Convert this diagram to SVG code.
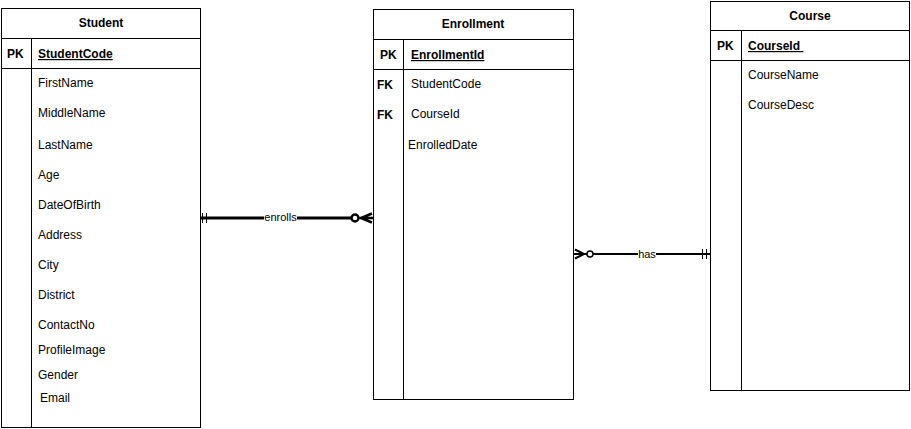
<svg xmlns="http://www.w3.org/2000/svg" width="911" height="429" viewBox="0 0 911 429">
<style>
.box{fill:#fff;stroke:#000;stroke-width:1}
.ln{stroke:#000;stroke-width:1;fill:none}
text{font-family:"Liberation Sans",Arial,sans-serif;font-size:12px;fill:#000}
.t{font-weight:bold;text-anchor:middle}
.k{font-weight:bold}
.pk{font-weight:bold;text-decoration:underline}
.lbl{font-size:11px;text-anchor:middle}
.c{stroke:#000;fill:none}
</style>
<rect width="911" height="429" fill="#fff"/>
<g id="student">
<rect class="box" x="1.5" y="8.5" width="199" height="419"/>
<line class="ln" x1="1.5" y1="38.5" x2="200.5" y2="38.5"/>
<line class="ln" x1="1.5" y1="68.5" x2="200.5" y2="68.5"/>
<line class="ln" x1="31.5" y1="38.5" x2="31.5" y2="427.5"/>
<text class="t" x="101" y="27">Student</text>
<text class="k" x="7" y="58">PK</text>
<text class="pk" x="38" y="58">StudentCode</text>
<text x="38" y="87">FirstName</text>
<text x="38" y="117">MiddleName</text>
<text x="38" y="149">LastName</text>
<text x="38" y="179">Age</text>
<text x="38" y="209">DateOfBirth</text>
<text x="38" y="239">Address</text>
<text x="38" y="269">City</text>
<text x="38" y="299">District</text>
<text x="38" y="329">ContactNo</text>
<text x="38" y="354">ProfileImage</text>
<text x="38" y="379">Gender</text>
<text x="40" y="402">Email</text>
</g>
<g id="enrollment">
<rect class="box" x="373.5" y="9.5" width="200" height="390"/>
<line class="ln" x1="373.5" y1="39.5" x2="573.5" y2="39.5"/>
<line class="ln" x1="373.5" y1="69.5" x2="573.5" y2="69.5"/>
<line class="ln" x1="403.5" y1="39.5" x2="403.5" y2="399.5"/>
<text class="t" x="473" y="28">Enrollment</text>
<text class="k" x="380" y="59">PK</text>
<text class="pk" x="411" y="59">EnrollmentId</text>
<text class="k" x="377" y="89">FK</text>
<text x="411" y="88">StudentCode</text>
<text class="k" x="377" y="119">FK</text>
<text x="411" y="118">CourseId</text>
<text x="408" y="149">EnrolledDate</text>
</g>
<g id="course">
<rect class="box" x="710.5" y="1.5" width="199" height="389"/>
<line class="ln" x1="710.5" y1="30.5" x2="909.5" y2="30.5"/>
<line class="ln" x1="710.5" y1="60.5" x2="909.5" y2="60.5"/>
<line class="ln" x1="741.5" y1="30.5" x2="741.5" y2="390.5"/>
<text class="t" x="810" y="20">Course</text>
<text class="k" x="717" y="50">PK</text>
<text class="pk" x="748" y="50">CourseId&#160;</text>
<text x="748" y="79">CourseName</text>
<text x="748" y="109">CourseDesc</text>
</g>
<g id="connectors">
<g id="enrolls">
<line class="c" stroke-width="3" x1="200" y1="218" x2="351" y2="218"/>
<line class="c" stroke-width="1" x1="202.5" y1="213" x2="202.5" y2="223"/>
<line class="c" stroke-width="1" x1="206.5" y1="213" x2="206.5" y2="223"/>
<circle cx="355" cy="218" r="3.5" fill="#fff" stroke="#000" stroke-width="2.5"/>
<path class="c" stroke-width="2.5" d="M372 213.5 L361 218 L372 222.5 M360 218 L373 218"/>
<rect x="264" y="211" width="33" height="13" fill="#fff"/>
<text class="lbl" x="280.5" y="221">enrolls</text>
</g>
<g id="has">
<line class="c" stroke-width="2" x1="574" y1="254" x2="710" y2="254"/>
<path class="c" stroke-width="2" d="M575 249.5 L584 254 L575 258.5"/>
<circle cx="590" cy="254" r="3" fill="#fff" stroke="#000" stroke-width="1.5"/>
<line class="c" stroke-width="1" x1="702.5" y1="249" x2="702.5" y2="259"/>
<line class="c" stroke-width="1" x1="706.5" y1="249" x2="706.5" y2="259"/>
<rect x="638" y="248" width="18" height="13" fill="#fff"/>
<text class="lbl" x="647" y="258">has</text>
</g>
</g>
</svg>
